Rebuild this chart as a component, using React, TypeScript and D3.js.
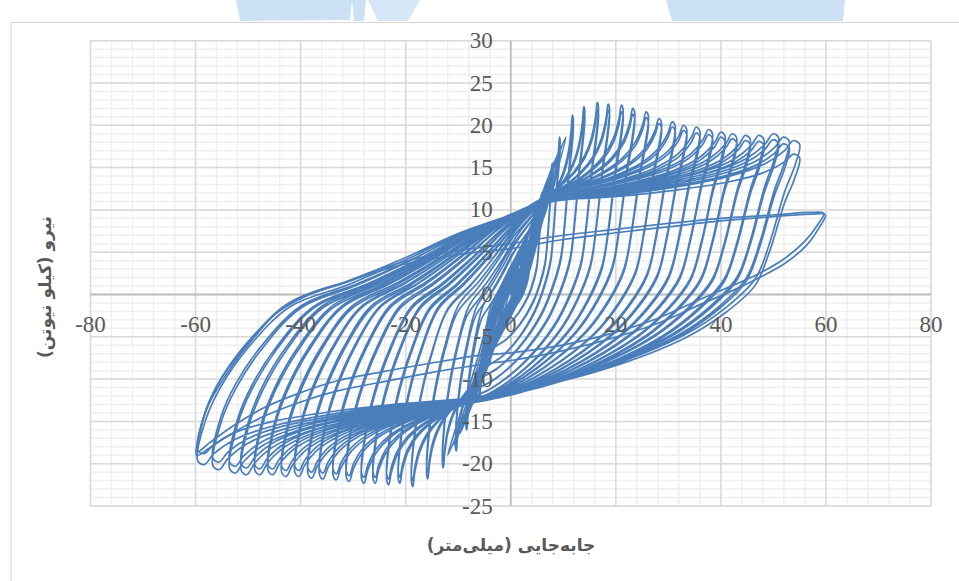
import React, { useRef, useEffect } from 'react';
import * as d3 from 'd3';

// axis ticks
const xTickValues = [-80, -60, -40, -20, 0, 20, 40, 60, 80];
const yTickValues = [-25, -20, -15, -10, -5, 0, 5, 10, 15, 20, 25, 30];

const xTitle = 'جابه‌جایی (میلی‌متر)';
const yTitle = 'نیرو (کیلو نیوتن)';

// small early cycles (elastic band through the origin)
const earlyPosDisp = [1.5, 3, 4.5, 5.5, 6.5, 7.5, 8.5, 9.5, 10.5];
const earlyPosForce = [3, 6, 9, 11, 12.8, 14.4, 16, 17.4, 18.6];
const earlyNegDisp = [-1.8, -3.5, -5, -6.3, -7.4, -8.5, -9.6, -10.8, -12];
const earlyNegForce = [-3.4, -6.6, -9.6, -11.6, -13.2, -14.8, -16.4, -17.8, -19];

// peaks of each displacement level, two cycles per level (A, B)
const levelPosDisp = [2, 4, 6, 8, 9.4, 11.9, 14.1, 16.7, 18.8, 21.4, 23.6, 26.2, 28.7, 31.3, 33.5, 36, 38.4, 40.8, 43, 45.6, 48.2, 51, 53, 55];
const levelPosForceA = [3.5, 7.5, 12, 15.5, 18.6, 21.2, 22.2, 22.7, 22.5, 22.4, 22.0, 21.6, 20.8, 20.4, 20.0, 19.8, 19.5, 19.2, 19.0, 18.8, 18.8, 19.0, 18.6, 18.2];
const levelPosForceB = [3.3, 7.0, 11.4, 14.8, 17.8, 20.3, 21.4, 21.9, 21.8, 21.6, 21.3, 20.9, 20.2, 19.8, 19.4, 19.1, 18.9, 18.6, 18.4, 18.2, 18.1, 18.3, 17.8, 16.6];
const levelNegDisp = [-2, -4, -6, -8.5, -10.5, -13, -16, -18.9, -21.4, -23.6, -26.2, -28.4, -31.3, -33.8, -36.4, -38.6, -41.1, -43.6, -46.2, -48.7, -51.3, -53.5, -56.7, -59.6];
const levelNegForceA = [-4, -8, -12.5, -16, -18.5, -20.5, -21.8, -22.7, -22.3, -22.5, -22.3, -22.3, -22.1, -21.9, -21.8, -21.7, -21.5, -21.5, -21.3, -21.3, -21.3, -21.1, -20.7, -20.1];
const levelNegForceB = [-3.8, -7.5, -12, -15.3, -17.8, -19.8, -21.0, -22.0, -21.6, -21.8, -21.6, -21.6, -21.4, -21.2, -21.1, -21.0, -20.8, -20.8, -20.6, -20.6, -20.5, -20.3, -19.8, -18.8];

// pinch points (where branches meet) per level
const upperKnotX = [0.6, 1.2, 2, 3, 4, 5, 6.5, 7.5, 8, 8, 8, 8, 8, 8, 8, 8, 8, 8, 8, 8, 8, 8, 8, 8];
const upperKnotY = [1.2, 2.4, 4, 6, 8, 9.5, 11, 12, 12, 12, 12, 12, 12, 12, 12, 11.8, 11.8, 11.6, 11.6, 11.5, 11.5, 11.4, 11.2, 11];
const lowerKnotX = [-0.6, -1.2, -2, -3, -4.5, -6, -7.5, -8.5, -9, -9, -9, -9, -9, -9, -9, -9, -9, -9, -9, -9, -9, -9, -9, -9];
const lowerKnotY = [-1.3, -2.5, -4.2, -6.2, -8.5, -10, -11.5, -12.5, -13, -13, -13, -13, -13, -13, -13, -13, -13, -13, -13, -12.8, -12.8, -12.6, -12.5, -12.3];

// branch shapes (fraction of the way knot -> peak)
const loadShape = [[0, 0], [0.25, 0.1], [0.5, 0.24], [0.72, 0.42], [0.86, 0.62], [0.94, 0.84], [0.975, 1]];
const posUnloadShape = [[1, 0.985], [0.985, 0.9], [0.955, 0.8], [0.91, 0.6], [0.868, 0.464], [0.785, 0.357], [0.662, 0.25], [0.431, 0.125], [0.2, 0.043], [0, 0]];
const negUnloadShape = [[1, 0.985], [0.976, 0.825], [0.932, 0.698], [0.858, 0.556], [0.74, 0.4], [0.577, 0.317], [0.414, 0.222], [0.266, 0.127], [0.118, 0.054], [0, 0]];
const elasticShape = [[0, 0], [0.5, 0.45], [1, 1]];

// last, degraded cycles at +-60 mm
const finalLoopA = [
  [0, 6], [10, 7], [20, 7.7], [30, 8.4], [40, 9], [50, 9.4], [57, 9.7], [59.6, 9.6], [58.5, 8.3], [56, 6.3],
  [52, 4.2], [47, 2.4], [42, 1], [36, -0.6], [28, -2.8], [18, -4.8], [8, -6.2], [0, -6.9], [-6, -7.2],
  [-15, -8.1], [-25, -9.2], [-33, -10.2], [-40, -11.6], [-47, -13.4], [-53, -15.6], [-57.5, -17.6],
  [-59.6, -18.6], [-59.2, -16.5], [-57.5, -13], [-54, -9.3], [-49, -5.2], [-44, -1.8], [-38, 0.2],
  [-31, 1.6], [-24, 3.2], [-17, 4.4], [-9, 5.3], [0, 6],
];
const finalLoopB = [
  [0, 5.4], [10, 6.5], [20, 7.3], [30, 8], [40, 8.7], [50, 9.2], [57, 9.5], [59.9, 9.4], [58.8, 8], [56.3, 5.8],
  [52, 3.6], [47, 1.9], [42, 0.4], [36, -1.2], [28, -3.4], [18, -5.4], [8, -6.9], [0, -7.8], [-6, -8.3],
  [-15, -9.2], [-25, -10.4], [-33, -11.4], [-40, -12.7], [-47, -14.4], [-53, -16.4], [-57.5, -18.2],
  [-59.8, -19], [-59.5, -17], [-58, -13.6], [-55, -9.8], [-50, -5.8], [-45, -2.4], [-39, -0.2],
  [-32, 1.3], [-25, 2.8], [-18, 3.9], [-9, 4.8], [0, 5.4],
];

const serifFont = '"Liberation Serif", "Times New Roman", Times, serif';

const App = () => {
  const svgRef = useRef<SVGSVGElement>(null);

  useEffect(() => {
    const svg = d3.select(svgRef.current);
    svg.selectAll('*').remove();

    const x = d3.scaleLinear().domain([-80, 80]).range([90.5, 931]);
    const y = d3.scaleLinear().domain([-25, 30]).range([506, 40.7]);

    // watermark scraps at the top edge
    const wm = svg.append('g').attr('fill', '#cde1f5');
    wm.append('polygon').attr('points', '236,0 352,0 350,20 240,21');
    wm.append('polygon').attr('points', '352,0 366,0 364,21 354,21');
    wm.append('polygon').attr('points', '368,0 420,0 408,21 378,21').attr('fill', '#d6e7f7');
    wm.append('polygon').attr('points', '666,0 845,0 843,21 672,21');

    // chart area border
    svg.append('rect')
      .attr('x', 11).attr('y', 22.5).attr('width', 1000).attr('height', 700)
      .attr('fill', 'none').attr('stroke', '#d9d9d9').attr('stroke-width', 1.2);

    const g = svg.append('g');

    // minor grid
    d3.range(-80, 81, 4).forEach(v => {
      g.append('line').attr('x1', x(v)).attr('x2', x(v)).attr('y1', y(30)).attr('y2', y(-25))
        .attr('stroke', '#efefef').attr('stroke-width', 1.5);
    });
    d3.range(-25, 31, 1).forEach(v => {
      g.append('line').attr('x1', x(-80)).attr('x2', x(80)).attr('y1', y(v)).attr('y2', y(v))
        .attr('stroke', '#efefef').attr('stroke-width', 1.5);
    });
    // major grid
    xTickValues.forEach(v => {
      g.append('line').attr('x1', x(v)).attr('x2', x(v)).attr('y1', y(30)).attr('y2', y(-25))
        .attr('stroke', '#d9d9d9').attr('stroke-width', 1.5);
    });
    yTickValues.forEach(v => {
      g.append('line').attr('x1', x(-80)).attr('x2', x(80)).attr('y1', y(v)).attr('y2', y(v))
        .attr('stroke', '#d9d9d9').attr('stroke-width', 1.5);
    });
    // zero axes
    g.append('line').attr('x1', x(0)).attr('x2', x(0)).attr('y1', y(30)).attr('y2', y(-25))
      .attr('stroke', '#bfbfbf').attr('stroke-width', 1.8);
    g.append('line').attr('x1', x(-80)).attr('x2', x(80)).attr('y1', y(0)).attr('y2', y(0))
      .attr('stroke', '#bfbfbf').attr('stroke-width', 1.8);

    const line = d3.line<number[]>()
      .x(p => x(p[0]))
      .y(p => y(p[1]))
      .curve(d3.curveCatmullRom.alpha(0.5));

    // early elastic cycles
    const early: [number, number][] = [[0, 0]];
    earlyPosDisp.forEach((d, i) => {
      const P = [d, earlyPosForce[i]];
      const N = [earlyNegDisp[i], earlyNegForce[i]];
      const o = [d * 0.25, earlyPosForce[i] * 0.15];
      const q = [earlyNegDisp[i] * 0.25, earlyNegForce[i] * 0.15];
      elasticShape.slice(1).forEach(([a, b]) => early.push([o[0] + (P[0] - o[0]) * a, o[1] + (P[1] - o[1]) * b]));
      elasticShape.slice().reverse().slice(1).forEach(([a, b]) => early.push([q[0] + (P[0] - q[0]) * a, q[1] + (P[1] - q[1]) * (1 - (1 - b) * 0.9)]));
      elasticShape.slice(1).forEach(([a, b]) => early.push([q[0] + (N[0] - q[0]) * a, q[1] + (N[1] - q[1]) * b]));
      elasticShape.slice().reverse().slice(1).forEach(([a, b]) => early.push([o[0] + (N[0] - o[0]) * a, o[1] + (N[1] - o[1]) * (1 - (1 - b) * 0.9)]));
    });

    // build the main cyclic curve
    const cycles: any[] = [];
    levelPosDisp.forEach((d, i) => {
      [[levelPosForceA[i], levelNegForceA[i]], [levelPosForceB[i], levelNegForceB[i]]].forEach(([fp, fn]) => {
        cycles.push({
          P: [d, fp], N: [levelNegDisp[i], fn],
          U: [upperKnotX[i], upperKnotY[i]], L: [lowerKnotX[i], lowerKnotY[i]],
        });
      });
    });

    const pts: [number, number][] = [[0, 0]];
    const follow = (s: number[], e: number[], shape: number[][], skipFirst: boolean) => {
      shape.forEach(([a, b], k) => {
        if (skipFirst && k === 0) return;
        pts.push([s[0] + (e[0] - s[0]) * a, s[1] + (e[1] - s[1]) * b]);
      });
    };
    cycles.forEach((c, i) => {
      const nextU = i < cycles.length - 1 ? cycles[i + 1].U : c.U;
      follow(c.U, c.P, loadShape, i > 0);
      follow(c.L, c.P, posUnloadShape, false);
      follow(c.L, c.N, loadShape, true);
      follow(nextU, c.N, negUnloadShape, false);
    });

    const curves = svg.append('g')
      .attr('fill', 'none').attr('stroke', '#4a7ebb').attr('stroke-width', 1.7)
      .attr('stroke-linejoin', 'round');
    curves.append('path').attr('d', line(early));
    curves.append('path').attr('d', line(pts));
    [finalLoopA, finalLoopB].forEach(loop => {
      curves.append('path').attr('d', line(loop));
    });

    // tick labels
    xTickValues.forEach(v => {
      svg.append('text').attr('x', x(v)).attr('y', y(0) + 30)
        .attr('font-family', serifFont).attr('font-size', 23).attr('fill', '#595959')
        .attr('text-anchor', 'middle').attr('dominant-baseline', 'central').text(v);
    });
    yTickValues.forEach(v => {
      svg.append('text').attr('x', x(0) - 18).attr('y', y(v))
        .attr('font-family', serifFont).attr('font-size', 23).attr('fill', '#595959')
        .attr('text-anchor', 'end').attr('dominant-baseline', 'central').text(v);
    });

    // axis titles
    svg.append('text')
      .attr('x', 511).attr('y', 545)
      .attr('text-anchor', 'middle').attr('dominant-baseline', 'central')
      .attr('font-family', '"DejaVu Sans", sans-serif').attr('font-weight', 'bold')
      .attr('font-size', 17).attr('fill', '#595959').attr('direction', 'rtl')
      .text(xTitle);
    svg.append('text')
      .attr('transform', 'translate(45,287) rotate(-90)')
      .attr('text-anchor', 'middle').attr('dominant-baseline', 'central')
      .attr('font-family', '"DejaVu Sans", sans-serif').attr('font-weight', 'bold')
      .attr('font-size', 17).attr('fill', '#595959').attr('direction', 'rtl')
      .text(yTitle);
  }, []);

  return (
    <svg ref={svgRef} width={959} height={581}
      style={{ position: 'absolute', left: 0, top: 0, background: '#fff' }} />
  );
};

export default App;
